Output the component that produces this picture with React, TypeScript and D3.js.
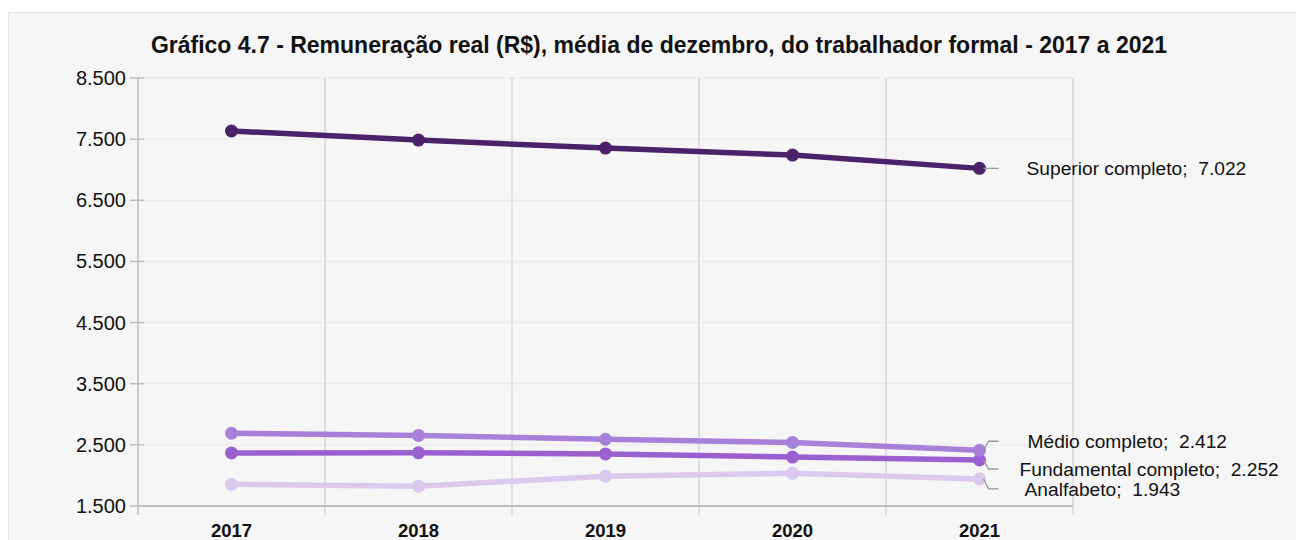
import React from 'react';
import * as d3 from 'd3';

const years = ['2017', '2018', '2019', '2020', '2021'];
const superior = [7633, 7485, 7354, 7240, 7022];
const medio = [2690, 2655, 2592, 2540, 2412];
const fundamental = [2368, 2370, 2352, 2300, 2252];
const analfabeto = [1855, 1825, 1985, 2035, 1943];
const yTicks = [1500, 2500, 3500, 4500, 5500, 6500, 7500, 8500];

const series = [
  { name: 'Analfabeto', values: analfabeto, color: '#dcc9ef', labelDx: 45, labelDy: 10 },
  { name: 'Fundamental completo', values: fundamental, color: '#9b60cf', labelDx: 40, labelDy: 9 },
  { name: 'Médio completo', values: medio, color: '#a680d9', labelDx: 48, labelDy: -9 },
  { name: 'Superior completo', values: superior, color: '#4b2169', labelDx: 47, labelDy: 0 },
];

const fmt = (v: number) => d3.format(',')(v).replace(/,/g, '.');

export default function App() {
  const W = 1296, H = 540;
  const left = 138, right = 1073, top = 78, bottom = 506;

  const x = d3.scaleBand<string>().domain(years).range([left, right]);
  const y = d3.scaleLinear().domain([1500, 8500]).range([bottom, top]);
  const cx = (yr: string) => (x(yr) as number) + x.bandwidth() / 2;

  const line = d3.line<number>()
    .x((_, i) => cx(years[i]))
    .y(d => y(d));

  const font = 'Arial, "Liberation Sans", sans-serif';
  const lastYear = years[years.length - 1];

  return (
    <svg width={W} height={H} style={{ position: 'absolute', left: 0, top: 0 }} fontFamily={font}>
      <rect x={0} y={0} width={W} height={H} fill="#fff" />
      <rect x={8.5} y={12.5} width={W} height={H} fill="#f6f6f6" stroke="#e2e2e2" />

      <text x={659} y={53} textAnchor="middle" fontSize={23} fontWeight="bold" fill="#111">
        Gráfico 4.7 - Remuneração real (R$), média de dezembro, do trabalhador formal - 2017 a 2021
      </text>

      {/* horizontal grid */}
      {yTicks.map(t => (
        <g key={t}>
          <line x1={left} x2={right} y1={y(t)} y2={y(t)} stroke="#ebebeb" />
          <line x1={left - 8} x2={left + 6} y1={y(t)} y2={y(t)} stroke="#bdbdbd" strokeWidth={1.5} />
          <text x={left - 12} y={y(t) + 7} textAnchor="end" fontSize={20} fill="#111">{fmt(t)}</text>
        </g>
      ))}

      {/* vertical grid at band boundaries */}
      {years.map(yr => {
        const bx = (x(yr) as number) + x.bandwidth();
        return (
          <line key={yr} x1={bx} x2={bx} y1={top} y2={bottom + 9} stroke="#d0d0d0" strokeWidth={1.2} />
        );
      })}
      <line x1={left} x2={left} y1={top} y2={bottom + 9} stroke="#bdbdbd" strokeWidth={1.5} />
      <line x1={left} x2={right} y1={bottom} y2={bottom} stroke="#bdbdbd" strokeWidth={2} />

      {years.map(yr => (
        <text key={yr} x={cx(yr)} y={bottom + 31} textAnchor="middle" fontSize={18.5} fontWeight="bold" fill="#111">{yr}</text>
      ))}

      {series.map(s => (
        <g key={s.name}>
          <path d={line(s.values) || ''} fill="none" stroke={s.color} strokeWidth={5.5} />
          {s.values.map((v, i) => (
            <circle key={i} cx={cx(years[i])} cy={y(v)} r={6.5} fill={s.color} />
          ))}
        </g>
      ))}

      {series.map(s => {
        const v = s.values[s.values.length - 1];
        const px = cx(lastYear);
        const py = y(v);
        const ly = py + s.labelDy;
        return (
          <g key={s.name + '-lbl'}>
            <polyline
              points={`${px + 4},${py} ${px + 9},${ly} ${px + 19},${ly}`}
              fill="none" stroke="#999" strokeWidth={1.3}
            />
            <text x={px + s.labelDx} y={ly + 7} fontSize={19.2} fill="#111">
              {s.name};{'\u00a0\u00a0'}{fmt(v)}
            </text>
          </g>
        );
      })}
    </svg>
  );
}
